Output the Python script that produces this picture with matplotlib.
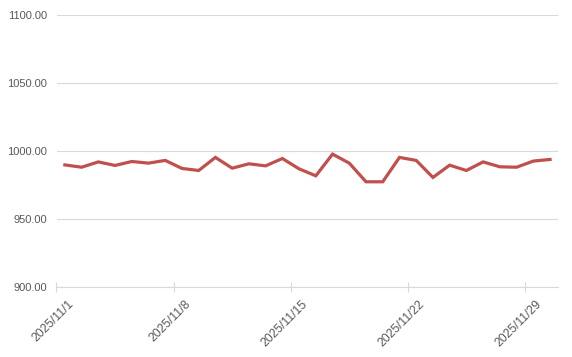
import pandas as pd
import matplotlib
matplotlib.use('Agg')
import matplotlib.pyplot as plt
import matplotlib.transforms as mtransforms

# daily values for November 2025
days = pd.date_range('2025-11-01', '2025-11-30', freq='D')
values = [989.9, 988.2, 992.1, 989.5, 992.4, 991.2, 993.2, 987.3, 985.8, 995.4,
          987.5, 990.7, 989.2, 994.6, 987.0, 981.9, 997.8, 991.2, 977.5, 977.5,
          995.4, 993.2, 980.7, 989.7, 985.8, 992.1, 988.5, 988.2, 992.7, 993.9]
tick_days = ['2025/11/1', '2025/11/8', '2025/11/15', '2025/11/22', '2025/11/29']
y_ticks = [900, 950, 1000, 1050, 1100]

labels = [f'{d.year}/{d.month}/{d.day}' for d in days]
pos = list(range(len(labels)))

plt.rcParams['font.family'] = ['Liberation Sans', 'DejaVu Sans']
grey = '#d9d9d9'
txt = '#595959'

fig = plt.figure(figsize=(5.72, 3.57), dpi=100)
ax = fig.add_axes([56.5 / 572, 1 - 287.3 / 357, (558.4 - 56.5) / 572, (287.3 - 15) / 357])

ax.plot(pos, values, color='#c0504d', linewidth=2.3, solid_joinstyle='miter', zorder=3)

ax.set_ylim(900, 1100)
ax.set_xlim(-0.5, len(pos) - 0.5)
ax.set_yticks(y_ticks)
ax.set_yticklabels([f'{v:.2f}' for v in y_ticks])
ax.grid(axis='y', color=grey, linewidth=0.8)
ax.set_axisbelow(True)
ax.tick_params(axis='y', length=0, pad=7, labelsize=8, labelcolor=txt)

# tick marks at category boundaries, labels at category centres
tick_pos = [labels.index(t) for t in tick_days]
ax.set_xticks([p - 0.5 for p in tick_pos])
ax.set_xticklabels([])
ax.tick_params(axis='x', which='major', direction='inout', length=7, color=grey, width=0.8)
ax.set_xticks(tick_pos, minor=True)
ax.set_xticklabels(tick_days, minor=True, rotation=45, ha='right', va='center',
                   rotation_mode='anchor')
ax.tick_params(axis='x', which='minor', length=0, pad=11, labelsize=8.8, labelcolor=txt)
shift = mtransforms.ScaledTranslation(7 / 100, 0, fig.dpi_scale_trans)
for lab in ax.xaxis.get_minorticklabels():
    lab.set_transform(lab.get_transform() + shift)

for s in ['left', 'right', 'top']:
    ax.spines[s].set_visible(False)
ax.spines['bottom'].set_color(grey)
ax.spines['bottom'].set_linewidth(0.8)

fig.savefig('out.png', dpi=100)
